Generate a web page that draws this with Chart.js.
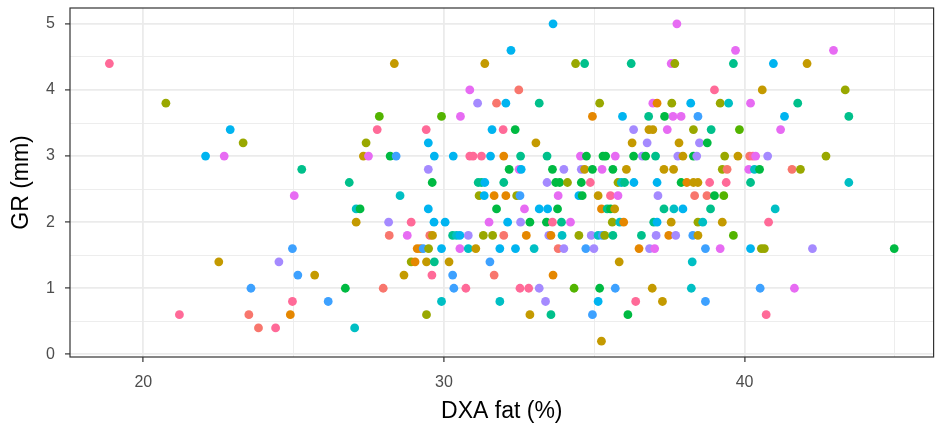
<!DOCTYPE html>
<html>
<head>
<meta charset="utf-8">
<script src="https://cdn.jsdelivr.net/npm/chart.js@4.4.1/dist/chart.umd.min.js"></script>
<style>
  html, body { margin:0; padding:0; background:#fff; }
  canvas { display:block; }
</style>
</head>
<body>
<canvas id="scatter" width="938" height="439"></canvas>
<script>
// DXA fat (%) for each subject
const dxaFat = [
  18.87,20.75,22.89,23.32,22.07,22.69,25.27,25.02,24.96,22.51,24.51,25.14,25.70,23.58,24.96,26.15,21.20,23.51,24.89,23.83,24.40,
  28.35,27.85,29.92,27.78,29.41,27.41,27.32,27.49,28.21,28.41,29.48,29.68,30.31,29.48,26.85,29.61,
  28.54,27.08,27.21,29.48,27.08,28.16,28.91,29.67,30.04,28.18,28.78,29.53,29.62,30.29,29.11,29.22,29.31,29.49,29.92,
  28.91,29.04,29.42,29.68,30.17,28.67,29.60,30.29,26.72,27.98,30.33,29.92,29.42,27.03,
  33.63,32.23,31.36,30.86,32.49,31.12,31.75,32.06,33.17,30.55,31.60,31.97,32.37,33.06,30.86,30.97,31.25,31.55,31.99,32.55,33.43,
  32.17,32.50,32.57,33.61,33.99,31.14,31.25,31.36,31.99,33.43,33.72,33.85,34.11,
  31.17,31.34,31.67,32.06,32.42,32.53,33.80,31.75,32.68,33.17,33.45,33.78,31.50,32.12,32.55,32.86,33.41,33.61,33.91,34.21,
  30.42,30.53,30.81,31.31,31.62,31.99,32.74,33.49,33.56,33.93,30.53,30.81,31.06,31.86,32.38,33.00,33.80,33.99,
  31.53,31.67,33.63,30.73,32.53,32.82,33.17,34.33,31.86,33.38,32.86,33.56,
  37.75,34.38,34.68,36.23,37.56,37.68,35.18,36.95,37.09,37.58,38.21,34.94,35.94,36.81,37.34,37.62,37.89,
  36.31,36.82,36.95,37.43,38.30,36.26,36.76,37.82,34.54,34.74,35.29,35.38,35.70,36.31,36.60,36.71,37.04,37.78,37.95,38.30,
  34.57,34.68,34.94,35.26,35.62,36.07,37.32,37.64,34.57,34.87,35.79,35.90,36.01,36.32,37.09,37.89,38.08,38.30,
  34.49,34.60,35.13,35.54,35.79,37.12,35.24,35.43,35.54,35.68,37.32,37.65,37.95,35.60,35.85,35.98,36.98,37.09,37.56,
  34.49,34.90,35.13,35.27,35.35,35.62,36.57,37.06,37.48,37.71,38.28,34.72,34.99,36.49,36.84,37.01,35.83,38.26,
  35.18,35.70,36.93,38.23,35.13,36.38,37.27,34.94,36.12,35.24,
  39.70,39.63,40.96,42.08,39.00,40.59,39.19,39.47,40.20,41.77,38.45,41.33,38.89,39.83,41.20,38.50,38.76,
  38.41,39.34,39.78,40.17,40.28,40.37,40.77,39.26,39.42,40.14,40.33,40.50,41.58,41.86,38.45,38.84,39.39,40.20,
  38.34,38.75,39.00,39.31,38.87,41.02,38.45,38.61,39.26,40.80,38.45,39.63,38.70,39.19,40.20,40.56,40.66,42.26,
  40.52,41.66,38.70,40.72,
  42.96,43.35,43.47,42.71,43.47,44.98
];

// GR (mm), same order
const grMm = [
  4.4,3.8,3.4,3.2,3.0,3.0,2.8,2.4,1.6,1.4,1.4,1.2,1.2,1.0,0.8,0.8,0.6,0.6,0.6,0.4,0.4,
  4.4,3.6,3.6,3.4,3.4,3.2,3.0,3.0,3.0,3.0,3.2,3.0,3.0,2.8,2.6,2.6,
  2.4,2.2,2.2,2.2,2.0,2.0,2.0,2.0,2.0,1.8,1.8,1.8,1.8,1.8,1.6,1.6,1.6,1.6,1.6,
  1.4,1.4,1.4,1.4,1.4,1.2,1.2,1.2,1.0,1.0,1.0,0.8,0.6,0.4,
  5.0,4.6,4.4,4.0,4.0,3.8,3.8,3.8,3.8,3.6,3.4,3.4,3.4,3.2,3.0,3.0,3.0,3.0,3.0,3.0,3.0,
  2.8,2.8,2.8,2.8,2.8,2.6,2.6,2.6,2.6,2.6,2.6,2.6,2.6,
  2.4,2.4,2.4,2.4,2.4,2.4,2.4,2.2,2.2,2.2,2.2,2.2,2.0,2.0,2.0,2.0,2.0,2.0,2.0,2.0,
  1.8,1.8,1.8,1.8,1.8,1.8,1.8,1.8,1.8,1.8,1.6,1.6,1.6,1.6,1.6,1.6,1.6,1.6,
  1.4,1.2,1.2,1.0,1.0,1.0,1.0,1.0,0.8,0.8,0.6,0.6,
  5.0,4.4,4.4,4.4,4.4,4.4,3.8,3.8,3.8,3.8,3.8,3.6,3.6,3.6,3.6,3.6,3.6,
  3.4,3.4,3.4,3.4,3.4,3.2,3.2,3.2,3.0,3.0,3.0,3.0,3.0,3.0,3.0,3.0,3.0,3.0,3.0,3.0,
  2.8,2.8,2.8,2.8,2.8,2.8,2.8,2.8,2.6,2.6,2.6,2.6,2.6,2.6,2.6,2.6,2.6,2.6,
  2.4,2.4,2.4,2.4,2.4,2.4,2.2,2.2,2.2,2.2,2.2,2.2,2.2,2.0,2.0,2.0,2.0,2.0,2.0,
  1.8,1.8,1.8,1.8,1.8,1.8,1.8,1.8,1.8,1.8,1.8,1.6,1.6,1.6,1.6,1.6,1.4,1.4,
  1.0,1.0,1.0,1.0,0.8,0.8,0.8,0.6,0.6,0.2,
  4.6,4.4,4.4,4.4,4.0,4.0,3.8,3.8,3.8,3.8,3.6,3.6,3.4,3.4,3.4,3.2,3.2,
  3.0,3.0,3.0,3.0,3.0,3.0,3.0,2.8,2.8,2.8,2.8,2.8,2.8,2.8,2.6,2.6,2.6,2.6,
  2.4,2.4,2.4,2.4,2.2,2.2,2.0,2.0,2.0,2.0,1.8,1.8,1.6,1.6,1.6,1.6,1.6,1.6,
  1.0,1.0,0.8,0.6,
  4.6,4.0,3.6,3.0,2.6,1.6
];

// colour group of each point, same order
const group = [
  'k','y','b','y','b','m','t','m','B','g','p','B','g','B','k','B','k','r','o','r','k',
  'g','L','L','k','k','y','g','m','G','B','b','b','b','p','t','G',
  'c','c','G','b','g','p','k','b','b','r','m','r','g','t','o','o','B','y','b',
  'y','o','g','t','g','g','k','B','G','r','B','c','y','c',
  'b','b','g','m','r','p','r','b','t','m','b','k','G','g','k','k','k','b','o','t','t',
  'G','m','b','G','p','t','t','b','t','p','G','G','y',
  'y','b','o','o','y','B','m','G','m','b','b','G','m','b','p','G','G','k','t','m',
  'c','b','p','y','y','r','o','p','o','c','m','c','g','b','b','c','r','p',
  'B','r','o','k','k','k','p','L','c','p','g','t',
  'm','y','t','t','m','y','y','m','o','y','b','o','b','t','G','m','m',
  'p','g','g','m','y','g','p','g','m','G','G','G','m','G','p','G','t','p','g','G',
  'p','g','G','m','G','g','g','g','G','k','y','c','t','b','b','G','o','g',
  'b','G','g','k','m','p','o','t','G','g','t','c','b','y','c','o','t','b','g',
  'y','p','c','B','y','t','t','p','o','p','B','B','p','o','p','m','g','c',
  'G','B','g','c','b','k','g','B','G','g',
  'm','t','b','g','k','g','y','c','m','t','B','b','t','L','m','p','G',
  'p','y','g','r','k','m','p','y','r','m','c','G','r','y','g','k','k','t',
  'r','r','G','L','t','c','y','c','g','k','g','L','B','m','b','y','y','p',
  'B','m','B','k',
  'm','y','t','y','c','G'
];

const xTicks = [20, 25, 30, 35, 40, 45];
const yTicks = [0, 0.5, 1, 1.5, 2, 2.5, 3, 3.5, 4, 4.5, 5];

const hue = {
  r:'#F8766D', o:'#E58700', g:'#C49A00', y:'#99A800', L:'#53B400', G:'#00BA42',
  t:'#00C08B', c:'#00BFC4', b:'#00B4F0', B:'#3DA1FF', p:'#A58AFF', m:'#E76BF3', k:'#FF6A98'
};

const font = "'Liberation Sans', Arial, sans-serif";

const panelBorder = {
  id: 'panelBorder',
  afterDraw(chart) {
    const {ctx, chartArea: a} = chart;
    ctx.save();
    ctx.strokeStyle = '#333333';
    ctx.lineWidth = 1.2;
    ctx.strokeRect(a.left, a.top, a.right - a.left, a.bottom - a.top);
    ctx.restore();
  }
};

function gridOpts(majorTest) {
  return {
    color: '#EBEBEB',
    lineWidth: c => (c.tick && majorTest(c.tick.value)) ? 1.8 : 0.9,
    tickColor: c => (c.tick && majorTest(c.tick.value)) ? '#333333' : 'rgba(0,0,0,0)',
    tickWidth: 1.2,
    tickLength: 5,
    drawTicks: true
  };
}

new Chart(document.getElementById('scatter'), {
  type: 'scatter',
  data: {
    datasets: [{
      data: dxaFat.map((x, i) => ({x, y: grMm[i]})),
      backgroundColor: group.map(g => hue[g]),
      pointRadius: 4.4,
      borderWidth: 0
    }]
  },
  options: {
    responsive: false,
    animation: false,
    devicePixelRatio: 1,
    layout: {padding: {top: 8, right: 4, left: 0, bottom: 0}},
    plugins: {legend: {display: false}, tooltip: {enabled: false}},
    scales: {
      x: {
        type: 'linear', min: 17.56, max: 46.29,
        afterBuildTicks: s => { s.ticks = xTicks.map(v => ({value: v})); },
        afterFit: s => { s.height = 82; s.paddingLeft = 0; s.paddingRight = 0; },
        grid: gridOpts(v => v % 10 === 0),
        border: {display: false},
        ticks: {
          autoSkip: false, maxRotation: 0, padding: 11,
          color: '#4D4D4D', font: {family: font, size: 16},
          callback: v => v % 10 === 0 ? v : ''
        },
        title: {display: true, text: 'DXA fat (%)', color: '#000', font: {family: font, size: 23}, padding: {top: 0, bottom: 14}}
      },
      y: {
        type: 'linear', min: -0.04, max: 5.24,
        afterBuildTicks: s => { s.ticks = yTicks.map(v => ({value: v})); },
        afterFit: s => { s.width = 70; s.paddingTop = 0; s.paddingBottom = 0; },
        grid: gridOpts(v => Number.isInteger(v)),
        border: {display: false},
        ticks: {
          autoSkip: false, padding: 10,
          color: '#4D4D4D', font: {family: font, size: 16},
          callback: v => Number.isInteger(v) ? v : ''
        },
        title: {display: true, text: 'GR (mm)', color: '#000', font: {family: font, size: 23}, padding: {top: 8, bottom: 0}}
      }
    }
  },
  plugins: [panelBorder]
});
</script>
</body>
</html>
